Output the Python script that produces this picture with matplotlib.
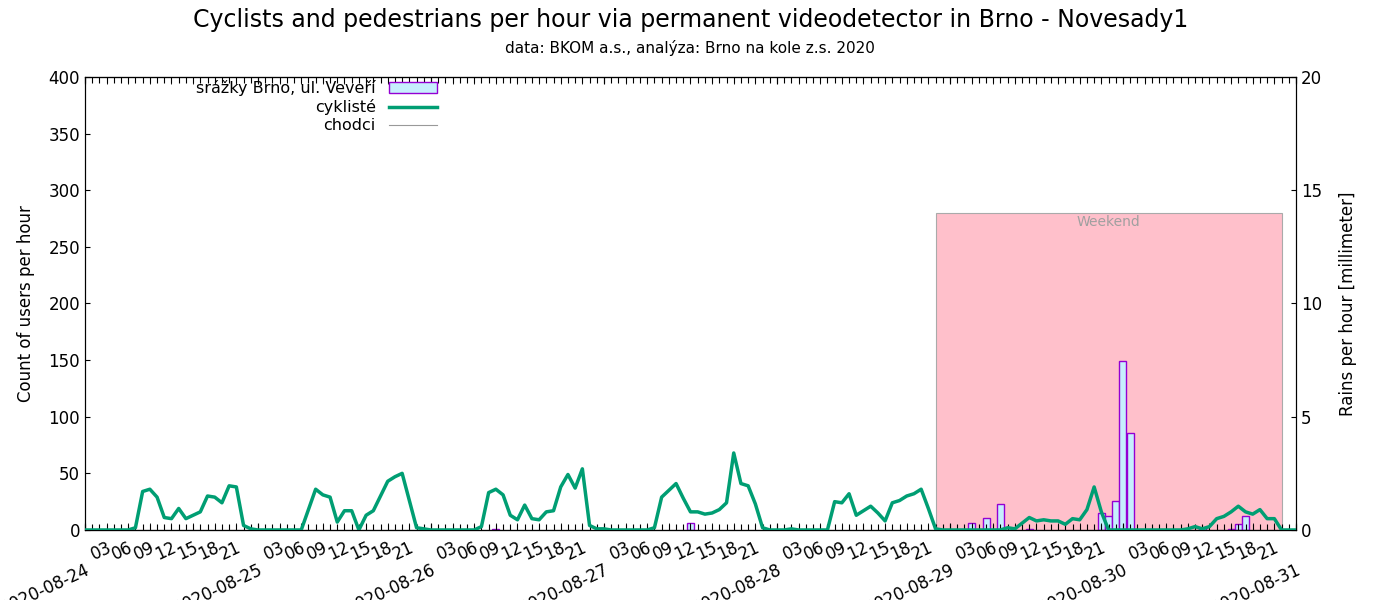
import numpy as np
import pandas as pd
import matplotlib
matplotlib.use("Agg")
import matplotlib.pyplot as plt
import matplotlib.dates as mdates
from matplotlib.patches import Patch
from matplotlib.lines import Line2D

# cyclists per hour, one list per day (hours 0..23)
cyklo_24 = [0, 0, 0, 0, 0, 0, 0, 2, 34, 36, 29, 11, 10, 19, 10, 13, 16, 30, 29, 24, 39, 38, 4, 1]
cyklo_25 = [0, 0, 0, 0, 0, 0, 0, 18, 36, 31, 29, 7, 17, 17, 0, 13, 17, 30, 43, 47, 50, 26, 2, 1]
cyklo_26 = [0, 0, 0, 0, 0, 0, 0, 3, 33, 36, 31, 13, 9, 22, 10, 9, 16, 17, 38, 49, 37, 54, 4, 1]
cyklo_27 = [1, 0, 0, 0, 0, 0, 0, 2, 29, 35, 41, 28, 16, 16, 14, 15, 18, 24, 68, 41, 39, 23, 2, 0]
cyklo_28 = [0, 0, 1, 0, 0, 0, 0, 0, 25, 24, 32, 13, 17, 21, 15, 8, 24, 26, 30, 32, 36, 19, 1, 0]
cyklo_29 = [0, 0, 0, 0, 0, 0, 0, 0, 2, 1, 6, 11, 8, 9, 8, 8, 5, 10, 9, 18, 38, 16, 0, 0]
cyklo_30 = [0, 0, 0, 0, 0, 0, 0, 0, 0, 1, 3, 1, 3, 10, 12, 16, 21, 16, 14, 18, 10, 10, 0, 0]
cyklo_31 = [0]

# rain in mm per hour (only non-zero hours)
dest_cas = ["2020-08-26 09:00", "2020-08-27 12:00", "2020-08-29 03:00", "2020-08-29 05:00",
            "2020-08-29 07:00", "2020-08-29 11:00", "2020-08-29 21:00", "2020-08-29 22:00",
            "2020-08-29 23:00", "2020-08-30 00:00", "2020-08-30 01:00", "2020-08-30 11:00",
            "2020-08-30 15:00", "2020-08-30 16:00", "2020-08-30 17:00"]
dest_mm = [0.05, 0.3, 0.3, 0.52, 1.15, 0.05, 0.75, 0.6, 1.27, 7.45, 4.3, 0.1, 0.05, 0.25, 0.62]

vikend_od = "2020-08-28 22:00"
vikend_do = "2020-08-30 22:00"
vikend_vyska = 280

cyklo = cyklo_24 + cyklo_25 + cyklo_26 + cyklo_27 + cyklo_28 + cyklo_29 + cyklo_30 + cyklo_31
cas = pd.date_range("2020-08-24 00:00", periods=len(cyklo), freq="h")
chodci = [0] * len(cyklo)

fig = plt.figure(figsize=(14, 6), dpi=100)
ax = fig.add_axes([0.0607, 0.1167, 0.865, 0.755])
ax2 = ax.twinx()

# weekend box (on the rain axis, under the bars)
x0 = mdates.date2num(pd.Timestamp(vikend_od))
x1 = mdates.date2num(pd.Timestamp(vikend_do))
ax2.add_patch(plt.Rectangle((x0, 0), x1 - x0, vikend_vyska / 20, facecolor="pink",
                            edgecolor="#aaaaaa", lw=0.8, zorder=0))
ax2.text((x0 + x1) / 2, (vikend_vyska - 8) / 20, "Weekend", color="#a0a0a0",
         ha="center", va="center", fontsize=10)

ax2.bar(pd.to_datetime(dest_cas), dest_mm, width=0.97 / 24, color="#c6effd",
        edgecolor="#9400d3", lw=1, zorder=2)
ax2.set_ylim(0, 20)
ax2.set_yticks(range(0, 21, 5))
ax2.set_ylabel("Rains per hour [millimeter]", fontsize=12, labelpad=12)

ax.set_zorder(ax2.get_zorder() + 1)
ax.patch.set_visible(False)
ax.plot(cas, cyklo, color="#009e73", lw=2.5, zorder=3)
ax.plot(cas, chodci, color="#999999", lw=0.8, zorder=2)

ax.set_xlim(cas[0], cas[-1])
ax.set_ylim(0, 400)
ax.set_yticks(range(0, 401, 50))
ax.set_ylabel("Count of users per hour", fontsize=12, labelpad=10)

ax.xaxis.set_major_locator(mdates.DayLocator())
ax.xaxis.set_major_formatter(mdates.DateFormatter("%Y-%m-%d"))
ax.xaxis.set_minor_locator(mdates.HourLocator(byhour=range(3, 24, 3)))
ax.xaxis.set_minor_formatter(mdates.DateFormatter("%H"))
for lab in ax.get_xticklabels(which="both"):
    lab.set_rotation(25)
    lab.set_ha("right")
    lab.set_rotation_mode("anchor")
ax.tick_params(axis="x", which="both", labelsize=12, direction="in", top=True, length=5)
ax.tick_params(axis="y", labelsize=12, direction="in")
ax2.tick_params(axis="y", labelsize=12, direction="in")
ax.xaxis.set_tick_params(which="minor", pad=6)
ax.xaxis.set_tick_params(which="major", pad=22)

# hourly small ticks top and bottom
sec = ax.secondary_xaxis("top")
sec.xaxis.set_major_locator(mdates.HourLocator())
sec.tick_params(direction="in", length=4, labeltop=False)
sec2 = ax.secondary_xaxis("bottom")
sec2.xaxis.set_major_locator(mdates.HourLocator())
sec2.tick_params(direction="in", length=4, labelbottom=False)

# legend
h = [Patch(facecolor="#c6effd", edgecolor="#9400d3"),
     Line2D([], [], color="#009e73", lw=2.5),
     Line2D([], [], color="#999999", lw=0.8)]
ax.legend(h, ["srážky Brno, ul. Veveří", "cyklisté", "chodci"], loc="upper left",
          bbox_to_anchor=(0.08, 1.025), frameon=False, markerfirst=False, fontsize=11.5,
          handlelength=3, labelspacing=0.2)

fig.text(0.493, 0.955, "Cyclists and pedestrians per hour via permanent videodetector in Brno - Novesady1",
         ha="center", fontsize=17)
fig.text(0.493, 0.912, "data: BKOM a.s., analýza: Brno na kole z.s. 2020", ha="center", fontsize=11)

fig.savefig("out.png", dpi=100)
